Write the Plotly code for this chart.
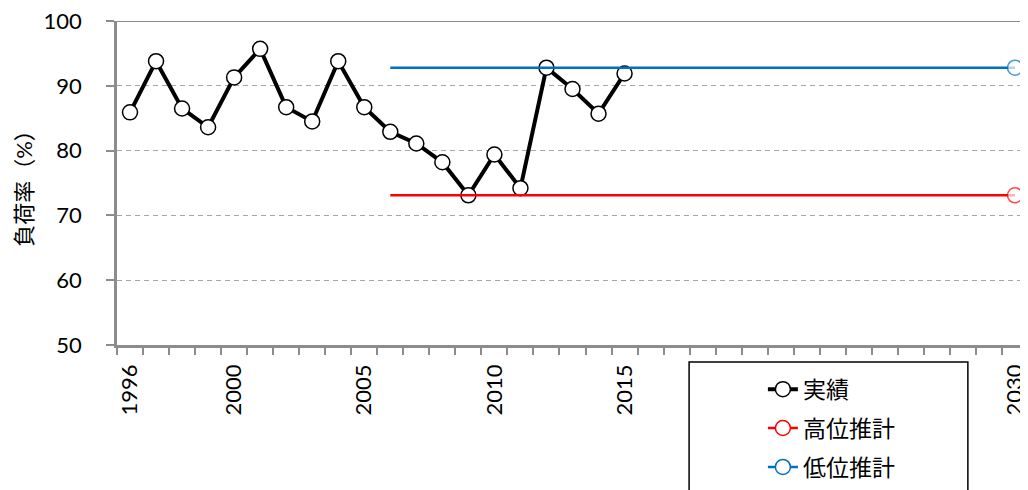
import plotly.graph_objects as go

# ---- data ----
years_actual = list(range(1996, 2016))
actual = [85.9, 93.8, 86.5, 83.6, 91.3, 95.7, 86.7, 84.5, 93.8, 86.7,
          82.9, 81.1, 78.2, 73.1, 79.4, 74.2, 92.8, 89.5, 85.7, 91.9]
proj_years = [2006, 2030]
high_est = [73.1, 73.1]
low_est = [92.8, 92.8]
tick_years = [1996, 2000, 2005, 2010, 2015, 2030]
tick_labels = [str(y) for y in tick_years]
names = ["実績", "高位推計", "低位推計"]
y_title = "負荷率（%）"

FONT = "Lato, 'Noto Sans CJK JP', sans-serif"
GRAY = "#8c8c8c"
BLACK = "#000000"
RED = "#ff0000"
BLUE = "#0070c0"

fig = go.Figure()

# actual
fig.add_trace(go.Scatter(
    x=years_actual, y=actual, mode="lines+markers", name=names[0],
    line=dict(color=BLACK, width=4),
    marker=dict(symbol="circle", size=15, color="white", line=dict(color=BLACK, width=1.5)),
    showlegend=False,
))
# projections
for yv, col, nm in [(high_est, RED, names[1]), (low_est, BLUE, names[2])]:
    fig.add_trace(go.Scatter(
        x=proj_years, y=yv, mode="lines+markers", name=nm,
        line=dict(color=col, width=2.5),
        marker=dict(symbol="circle", size=[0, 15], color="white", line=dict(color=col, width=1.5)),
        showlegend=False,
    ))

# legend entries
for i, (col, lw) in enumerate([(BLACK, 4), (RED, 2.5), (BLUE, 2.5)]):
    fig.add_trace(go.Scatter(
        x=[None], y=[None], mode="lines+markers", name=names[i],
        legendgroup=f"g{i}",
        line=dict(color=col, width=lw),
        marker=dict(symbol="circle", size=15, color="white", line=dict(color=col, width=1.5)),
    ))

# page body adds an 8px margin, so the figure is 8px smaller on each offset side
fig.update_layout(
    width=1020, height=482,
    margin=dict(l=109, r=0, t=13, b=145, autoexpand=False),
    plot_bgcolor="white", paper_bgcolor="white",
    font=dict(family=FONT, size=21, color="black"),
    xaxis=dict(
        range=[1995.5, 2030.5], automargin=False,
        tickvals=tick_years, ticktext=tick_labels, tickangle=-90,
        ticks="", showgrid=False, zeroline=False,
        showline=True, linecolor=GRAY, linewidth=2.5,
        tickfont=dict(size=22), ticklabeloverflow="allow",
        minor=dict(ticks="outside", tick0=1995.5, dtick=1, ticklen=7,
                   tickcolor=GRAY, tickwidth=1.5, showgrid=False),
        ticklabelstandoff=8,
    ),
    yaxis=dict(
        range=[50, 100], dtick=10, tick0=50, automargin=False,
        ticks="outside", ticklen=8, tickcolor=GRAY, tickwidth=1.5,
        showline=True, linecolor=GRAY, linewidth=2.5,
        showgrid=True, gridcolor="#a6a6a6", gridwidth=1.2, griddash="5px,4px",
        zeroline=False,
        tickfont=dict(size=22), ticklabeloverflow="allow",
        ticklabelstandoff=20,
        title=dict(text=y_title, font=dict(size=22), standoff=5),
    ),
    legend=dict(
        x=0.709, xanchor="left", y=-0.07, yanchor="top",
        bgcolor="rgba(0,0,0,0)", borderwidth=0,
        font=dict(size=23), tracegroupgap=6,
    ),
    shapes=[
        dict(type="line", xref="paper", yref="y", x0=0, x1=1, y0=100, y1=100,
             line=dict(color=GRAY, width=2)),
        dict(type="rect", xref="paper", yref="paper", x0=0.628, x1=0.934,
             y0=-0.0525, y1=-0.5, line=dict(color=BLACK, width=1.5)),
    ],
)

fig.write_html("out.html")
